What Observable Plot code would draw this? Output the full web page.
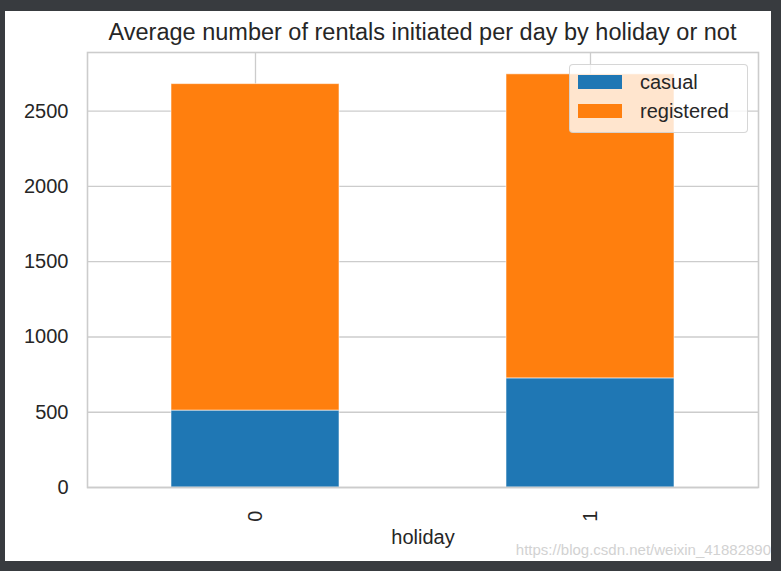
<!DOCTYPE html>
<html>
<head>
<meta charset="utf-8">
<script src="https://cdn.jsdelivr.net/npm/d3@7"></script>
<script src="https://cdn.jsdelivr.net/npm/@observablehq/plot@0.6"></script>
<style>
  html, body { margin: 0; padding: 0; }
  body { width: 781px; height: 571px; background: #383b3f; position: relative; overflow: hidden; font-family: "Liberation Sans", Arial, sans-serif; }
  #panel { position: absolute; left: 5px; top: 11px; width: 766px; height: 550px; background: #ffffff; }
  #title { position: absolute; left: 82px; width: 671px; top: 7px; line-height: 28px; font-size: 23.5px; color: #262626; text-align: center; white-space: nowrap; }
  #legend { position: absolute; left: 564px; top: 53px; width: 177px; height: 67px; border: 1px solid rgba(204,204,204,0.8); border-radius: 4px; background: rgba(255,255,255,0.8); }
  .sw { position: absolute; left: 8px; width: 44px; height: 14px; }
  .lt { position: absolute; left: 70px; font-size: 20px; line-height: 24px; color: #262626; }
  #wm { position: absolute; right: 10px; top: 541px; font-size: 15px; color: #d2d2d2; white-space: nowrap; }
</style>
</head>
<body>
<div id="panel">
  <div id="chart"></div>
  <div id="title">Average number of rentals initiated per day by holiday or not</div>
  <div id="legend"></div>
</div>
<div id="wm">https://blog.csdn.net/weixin_41882890</div>
<script>
// Data
const categories = ["0", "1"];
const seriesNames = ["casual", "registered"];
const casual = [511, 725];
const registered = [2169, 2020];
const seriesColors = ["#1f77b4", "#ff7f0e"];
const yTicks = [0, 500, 1000, 1500, 2000, 2500];

const table = [];
categories.forEach((c, i) => {
  table.push({holiday: c, type: "casual", value: casual[i]});
  table.push({holiday: c, type: "registered", value: registered[i]});
});

const chart = Plot.plot({
  width: 766,
  height: 550,
  marginTop: 41,
  marginBottom: 74,
  marginLeft: 82,
  marginRight: 13,
  style: {fontFamily: "'Liberation Sans', Arial, sans-serif", fontSize: "20px", color: "#262626", background: "transparent"},
  x: {domain: categories, paddingInner: 0.5, paddingOuter: 0.25},
  y: {domain: [0, 2890]},
  color: {domain: seriesNames, range: seriesColors},
  marks: [
    Plot.gridY(yTicks, {stroke: "#cccccc", strokeOpacity: 1, strokeWidth: 1.3}),
    Plot.gridX(categories, {stroke: "#cccccc", strokeOpacity: 1, strokeWidth: 1.3}),
    Plot.barY(table, {x: "holiday", y: "value", fill: "type", stroke: "white", strokeOpacity: 0.55, strokeWidth: 1}),
    Plot.frame({stroke: "#cccccc", strokeWidth: 1.6}),
    Plot.axisY(yTicks, {tickSize: 0, tickPadding: 19, label: null, tickFormat: d => String(d)}),
    Plot.axisX({tickSize: 0, tickPadding: 23, tickRotate: -90, label: "holiday", labelAnchor: "center", labelOffset: 56})
  ]
});
document.getElementById("chart").appendChild(chart);

// Legend built from the series arrays
const legend = d3.select("#legend");
const swTops = [10, 39];
const txtTops = [5, 34];
seriesNames.forEach((name, i) => {
  legend.append("div").attr("class", "sw").style("top", swTops[i] + "px").style("background", seriesColors[i]);
  legend.append("div").attr("class", "lt").style("top", txtTops[i] + "px").text(name);
});
</script>
</body>
</html>
